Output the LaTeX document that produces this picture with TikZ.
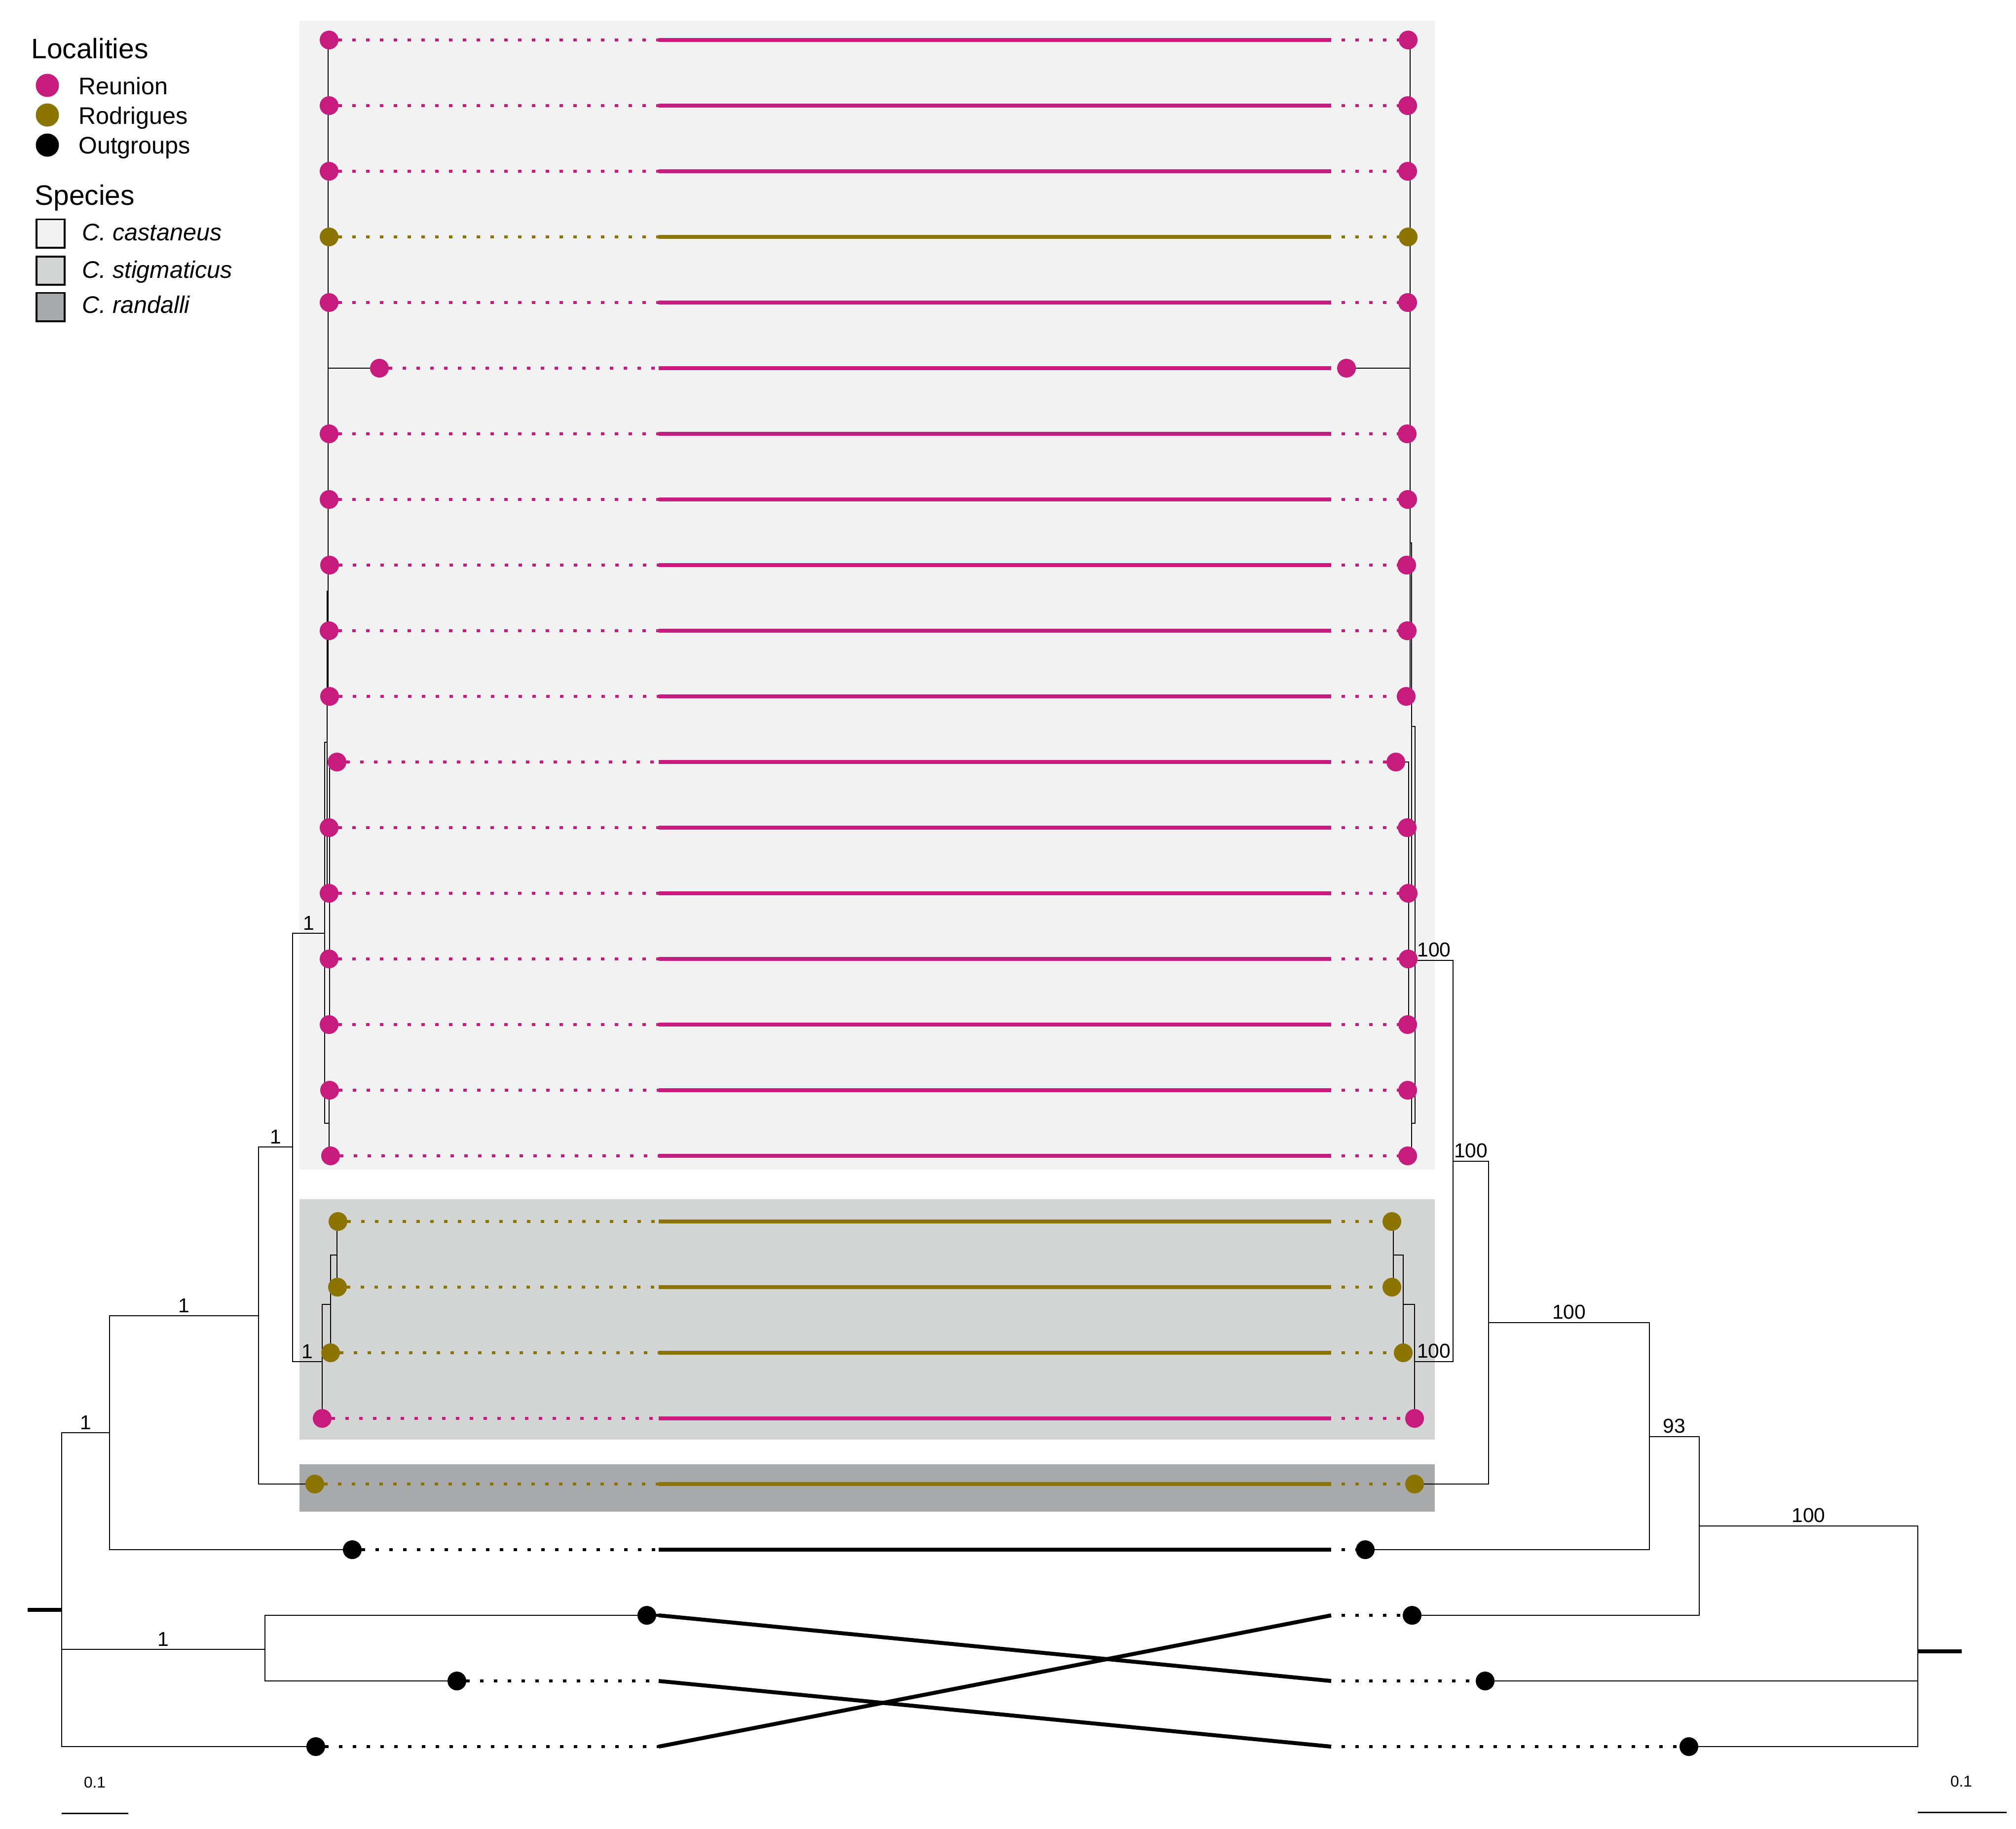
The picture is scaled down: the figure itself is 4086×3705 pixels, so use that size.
\documentclass[tikz,border=0pt]{standalone}
\usepackage{fontspec}
\setmainfont{Liberation Sans}
\usepackage{xcolor}
\definecolor{reunion}{RGB}{199,27,125}
\definecolor{rodrigues}{RGB}{139,117,0}
\definecolor{castaneusbg}{RGB}{242,242,242}
\definecolor{stigmaticusbg}{RGB}{211,212,212}
\definecolor{randallibg}{RGB}{168,169,171}
\usepackage{tikz}
\usetikzlibrary{positioning}

\begin{document}
\begin{tikzpicture}[x=0.05mm, y=-0.05mm,
  branch/.style={line width=0.09mm, black},
  rootstub/.style={line width=0.4mm, black},
  scalebar/.style={line width=0.15mm, black},
  link/.style={line width=0.4mm},
  dotlink/.style={line width=0.3mm, dash pattern=on 0.35mm off 1.05mm},
  leaf/.style={circle, inner sep=0pt, minimum size=1.9mm},
  support/.style={pos=0.75, anchor=south, inner sep=0.3mm, font=\fontsize{5.8}{6}\selectfont},
  legtitle/.style={anchor=base west, inner sep=0pt, font=\fontsize{8.1}{9}\selectfont},
  legtext/.style={anchor=base west, inner sep=0pt, font=\fontsize{6.9}{8}\selectfont},
  legbox/.style={draw, line width=0.18mm, minimum size=2.87mm, inner sep=0pt},
  scaletext/.style={anchor=base, inner sep=0pt, font=\fontsize{4.5}{5}\selectfont}]
  \useasboundingbox (0,0) rectangle (4086,3705);

  % species bands
  \fill[castaneusbg] (607,42) rectangle (2908,2370);
  \fill[stigmaticusbg] (607,2430) rectangle (2908,2917);
  \fill[randallibg] (607,2967) rectangle (2908,3063);

  % legend
  \node[legtitle] (loctitle) at (62,118) {Localities};
  \node[leaf, minimum size=2.35mm, fill=reunion] (locreu) at (96,173) {};
  \node[legtext] (locreutxt) at (158,191) {Reunion};
  \node[leaf, minimum size=2.35mm, fill=rodrigues] (locrod) at (96,233) {};
  \node[legtext] (locrodtxt) at (158,251) {Rodrigues};
  \node[leaf, minimum size=2.35mm, fill=black] (locout) at (96,294) {};
  \node[legtext] (locouttxt) at (158,311) {Outgroups};
  \node[legtitle] (sptitle) at (69,415) {Species};
  \node[legbox, fill=castaneusbg] (spcas) at (102.5,473) {};
  \node[legtext] (spcastxt) at (165,487) {\textit{C. castaneus}};
  \node[legbox, fill=stigmaticusbg] (spstig) at (102.5,548.5) {};
  \node[legtext] (spstigtxt) at (165,563) {\textit{C. stigmaticus}};
  \node[legbox, fill=randallibg] (spran) at (102.5,622) {};
  \node[legtext] (sprantxt) at (165,634) {\textit{C. randalli}};

  % tips
  \foreach \i/\lx/\rx in {1/667/2854, 2/667/2853, 3/667/2853, 4/667/2854, 5/667/2853,
      6/769/2729, 7/667/2852, 8/667/2853, 9/668/2851, 10/667/2852, 11/668/2850,
      12/683/2829, 13/667/2852, 14/667/2854, 15/667/2854, 16/667/2853, 17/668/2853,
      18/670/2853, 19/685/2821, 20/684/2821, 21/670/2844, 22/653/2867, 23/638/2867,
      24/714/2767, 25/1311/2862, 26/926/3010, 27/640/3423} {
    \pgfmathsetmacro\ry{81+133*(\i-1)}
    \coordinate (L\i) at (\lx,\ry);
    \coordinate (R\i) at (\rx,\ry);
    \coordinate (sL\i) at (1335,\ry);
    \coordinate (sR\i) at (2698,\ry);
  }

  % left tree
  \coordinate (lroot) at (125,3262);
  \coordinate (lstub) at (56,3262);
  \coordinate (lA) at (222,2903);
  \coordinate (lB) at (524,2666);
  \coordinate (lC) at (593,2324);
  \coordinate (lE) at (537,3342);
  \coordinate (lcas) at (658,1891);
  \coordinate (lcT) at (663,1504);
  \coordinate (lcU) at (665,1198);
  \coordinate (lcV) at (668,1810);
  \coordinate (lcB) at (667,2276);
  \coordinate (lstig) at (653,2759);
  \coordinate (ls1) at (670,2643);
  \coordinate (ls2) at (683,2543);

  \draw[rootstub] (lstub) -- (lroot);
  \draw[branch] (lroot) |- node[support] {1} (lA);
  \draw[branch] (lroot) |- node[support] {1} (lE);
  \draw[branch] (lroot) |- (L27);
  \draw[branch] (lA) |- node[support] {1} (lB);
  \draw[branch] (lA) |- (L24);
  \draw[branch] (lB) |- node[support] {1} (lC);
  \draw[branch] (lB) |- (L23);
  \draw[branch] (lE) |- (L25);
  \draw[branch] (lE) |- (L26);
  \draw[branch] (lC) |- node[support] {1} (lcas);
  \draw[branch] (lC) |- node[support] {1} (lstig);
  \draw[branch] (lstig) |- (ls1);
  \draw[branch] (lstig) |- (L22);
  \draw[branch] (ls1) |- (ls2);
  \draw[branch] (ls1) |- (L21);
  \draw[branch] (ls2) |- (L19);
  \draw[branch] (ls2) |- (L20);
  \draw[branch] (lcas) |- (lcT);
  \draw[branch] (lcas) |- (lcB);
  \draw[branch] (lcT) |- (lcU);
  \draw[branch] (lcT) |- (lcV);
  \foreach \i in {1,...,11} \draw[branch] (lcU) |- (L\i);
  \foreach \i in {12,...,16} \draw[branch] (lcV) |- (L\i);
  \draw[branch] (lcB) |- (L17);
  \draw[branch] (lcB) |- (L18);

  % right tree
  \coordinate (rroot) at (3887,3346);
  \coordinate (rstub) at (3976,3346);
  \coordinate (rA) at (3444,3092);
  \coordinate (rB) at (3343,2911);
  \coordinate (rC) at (3017,2680);
  \coordinate (rD) at (2945,2353);
  \coordinate (rcas) at (2868,1946);
  \coordinate (rcT) at (2861,1472);
  \coordinate (rcU) at (2858,1100);
  \coordinate (rcV) at (2855,1810);
  \coordinate (rcB) at (2861,2276);
  \coordinate (rstig) at (2867,2759);
  \coordinate (rs1) at (2844,2643);
  \coordinate (rs2) at (2824,2543);

  \draw[rootstub] (rroot) -- (rstub);
  \draw[branch] (rroot) |- node[support] {100} (rA);
  \draw[branch] (rroot) |- (R26);
  \draw[branch] (rroot) |- (R27);
  \draw[branch] (rA) |- node[support] {93} (rB);
  \draw[branch] (rA) |- (R25);
  \draw[branch] (rB) |- node[support] {100} (rC);
  \draw[branch] (rB) |- (R24);
  \draw[branch] (rC) |- node[support] {100} (rD);
  \draw[branch] (rC) |- (R23);
  \draw[branch] (rD) |- node[support] {100} (rcas);
  \draw[branch] (rD) |- node[support] {100} (rstig);
  \draw[branch] (rstig) |- (rs1);
  \draw[branch] (rstig) |- (R22);
  \draw[branch] (rs1) |- (rs2);
  \draw[branch] (rs1) |- (R21);
  \draw[branch] (rs2) |- (R19);
  \draw[branch] (rs2) |- (R20);
  \draw[branch] (rcas) |- (rcT);
  \draw[branch] (rcas) |- (rcB);
  \draw[branch] (rcT) |- (rcU);
  \draw[branch] (rcT) |- (rcV);
  \foreach \i in {1,...,11} \draw[branch] (rcU) |- (R\i);
  \foreach \i in {12,...,16} \draw[branch] (rcV) |- (R\i);
  \draw[branch] (rcB) |- (R17);
  \draw[branch] (rcB) |- (R18);

  % links between the two trees
  \foreach \i/\j/\c in {1/1/reunion, 2/2/reunion, 3/3/reunion, 4/4/rodrigues,
      5/5/reunion, 6/6/reunion, 7/7/reunion, 8/8/reunion, 9/9/reunion, 10/10/reunion,
      11/11/reunion, 12/12/reunion, 13/13/reunion, 14/14/reunion, 15/15/reunion,
      16/16/reunion, 17/17/reunion, 18/18/reunion, 19/19/rodrigues, 20/20/rodrigues,
      21/21/rodrigues, 22/22/reunion, 23/23/rodrigues, 24/24/black,
      25/26/black, 26/27/black, 27/25/black} {
    \draw[dotlink, \c, dash phase=0.45mm] (L\i) -- (sL\i);
    \draw[link, \c] (sL\i) -- (sR\j);
    \draw[dotlink, \c, dash phase=0.35mm] (sR\j) -- (R\j);
    \node[leaf, fill=\c] (dL\i) at (L\i) {};
    \node[leaf, fill=\c] (dR\j) at (R\j) {};
  }

  % scale bars
  \coordinate (lsb1) at (125,3674);
  \coordinate (lsb2) at (260,3674);
  \draw[scalebar] (lsb1) -- (lsb2);
  \node[scaletext] (lsbtxt) at (192,3622) {0.1};
  \coordinate (rsb1) at (3887,3672);
  \coordinate (rsb2) at (4067,3672);
  \draw[scalebar] (rsb1) -- (rsb2);
  \node[scaletext] (rsbtxt) at (3975,3620) {0.1};
\end{tikzpicture}
\end{document}
